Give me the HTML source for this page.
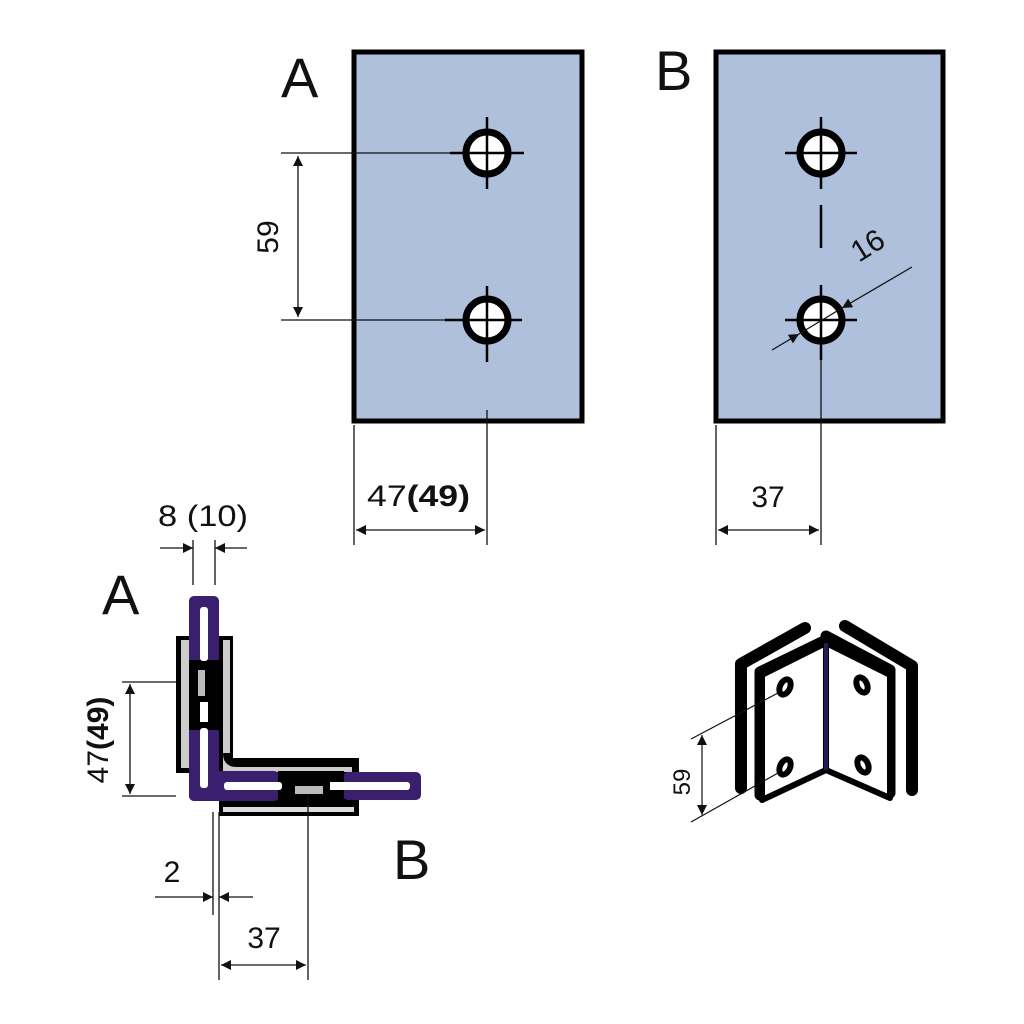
<!DOCTYPE html>
<html><head><meta charset="utf-8"><style>
html,body{margin:0;padding:0;background:#fff;}
svg{display:block;}
text{font-family:"Liberation Sans",sans-serif;fill:#111;}
</style></head><body>
<svg width="1024" height="1024" viewBox="0 0 1024 1024" xmlns="http://www.w3.org/2000/svg">
<defs>
<marker id="ar" viewBox="0 0 10 10" refX="10" refY="5" markerWidth="20" markerHeight="10" markerUnits="userSpaceOnUse" orient="auto-start-reverse">
<path d="M0,0 L10,5 L0,10 z" fill="#111"/></marker>
</defs>
<rect x="354" y="52" width="228" height="369" fill="#afc0dd" stroke="#000" stroke-width="5"/>
<rect x="716" y="52" width="227" height="369" fill="#afc0dd" stroke="#000" stroke-width="5"/>
<g stroke="#000" fill="#fff">
<circle cx="487" cy="153" r="21" stroke-width="7"/>
<circle cx="487" cy="320" r="21" stroke-width="7"/>
<circle cx="821" cy="153" r="21" stroke-width="7"/>
<circle cx="821" cy="320" r="21" stroke-width="7"/>
</g>
<g stroke="#000" stroke-width="2.5" fill="none">
<path d="M487 117V189M450 153H524M487 286V362M445 320H522"/>
<path d="M821 117V189M785 153H857M821 285V360M785 320H857M821 205V248"/>
</g>
<g stroke="#111" stroke-width="1.3" fill="none">
<path d="M281 153H450M281 320H445"/>
<line x1="298" y1="156" x2="298" y2="317" marker-start="url(#ar)" marker-end="url(#ar)"/>
<path d="M354 425V545M487 410V545"/>
<line x1="356" y1="530" x2="485" y2="530" marker-start="url(#ar)" marker-end="url(#ar)"/>
<path d="M716 425V545M821 360V545"/>
<line x1="718" y1="530" x2="819" y2="530" marker-start="url(#ar)" marker-end="url(#ar)"/>
<line x1="912" y1="267" x2="842" y2="308" marker-end="url(#ar)"/>
<line x1="772" y1="350" x2="799" y2="334" marker-end="url(#ar)"/>
<line x1="799" y1="334" x2="842" y2="308"/>
</g>
<text x="281" y="97" font-size="56">A</text>
<text x="655" y="90" font-size="56">B</text>
<text transform="translate(278,237) rotate(-90)" font-size="30" text-anchor="middle">59</text>
<text x="367" y="506" font-size="30" textLength="103" lengthAdjust="spacingAndGlyphs">47<tspan font-weight="bold">(49)</tspan></text>
<text x="768" y="507" font-size="30" text-anchor="middle">37</text>
<text transform="translate(873,254) rotate(-32)" font-size="30" text-anchor="middle">16</text>

<text x="102" y="614" font-size="56">A</text>
<text x="393" y="879" font-size="56">B</text>
<text x="158" y="526" font-size="30" textLength="90" lengthAdjust="spacingAndGlyphs">8 (10)</text>
<text transform="translate(108,740) rotate(-90)" font-size="30" text-anchor="middle">47<tspan font-weight="bold">(49)</tspan></text>
<text x="172" y="882" font-size="30" text-anchor="middle">2</text>
<text x="264" y="948" font-size="30" text-anchor="middle">37</text>
<rect x="176" y="636" width="57" height="137" fill="#000"/>
<rect x="219" y="758" width="140" height="58" fill="#000"/>
<path d="M181 640h10v128h-10zM223 640h7v113h-7z" fill="#ccc"/>
<path d="M223 753 Q223 767 237 767 H352 v5 H223z" fill="#ccc"/>
<rect x="223" y="807" width="131" height="5" fill="#ddd"/>
<g fill="#3a1f6e">
<rect x="189" y="596" width="30" height="68" rx="5"/>
<rect x="189" y="726" width="30" height="75" rx="5"/>
<rect x="189" y="771" width="90" height="30" rx="5"/>
<rect x="343" y="772" width="78" height="28" rx="5"/>
</g>
<rect x="189" y="660" width="30" height="70" fill="#000"/>
<rect x="278" y="771" width="66" height="30" fill="#000"/>
<g fill="#fff">
<rect x="200" y="607" width="8" height="54" rx="3"/>
<rect x="200" y="702" width="8" height="20" />
<rect x="200" y="728" width="8" height="60" rx="3"/>
<rect x="224" y="782" width="58" height="8" rx="3"/>
<rect x="330" y="782" width="20" height="8"/>
<rect x="348" y="782" width="62" height="8" rx="3"/>
</g>
<rect x="198" y="670" width="7" height="26" fill="#bbb"/>
<rect x="295" y="786" width="28" height="8" fill="#bbb"/>
<g stroke="#111" stroke-width="1.3" fill="none">
<path d="M193 540V585M215 540V585M122 682H176M122 796H176"/>
<line x1="160" y1="548" x2="193" y2="548" marker-end="url(#ar)"/>
<line x1="247" y1="548" x2="215" y2="548" marker-end="url(#ar)"/>
<line x1="130" y1="684" x2="130" y2="794" marker-start="url(#ar)" marker-end="url(#ar)"/>
<path d="M213 812V915M219 812V980M308 795V980"/>
<line x1="155" y1="897" x2="213" y2="897" marker-end="url(#ar)"/>
<line x1="253" y1="897" x2="219" y2="897" marker-end="url(#ar)"/>
<line x1="221" y1="965" x2="306" y2="965" marker-start="url(#ar)" marker-end="url(#ar)"/>
</g>

<g stroke="#000" stroke-linejoin="round" stroke-linecap="round" fill="none">
<path d="M741 788V664L805 628" stroke-width="12"/>
<path d="M912 790V666L845 626" stroke-width="12"/>
<path d="M760 795V672L826 640" stroke-width="11"/>
<path d="M890 793V670L826 636" stroke-width="11"/>
</g>
<path d="M762 800V675L826 643V770Z" fill="#fff" stroke="#000" stroke-width="6" stroke-linejoin="round"/>
<path d="M890 798V675L826 643V770Z" fill="#fff" stroke="#000" stroke-width="6" stroke-linejoin="round"/>
<line x1="826" y1="643" x2="826" y2="770" stroke="#2a1a55" stroke-width="4"/>
<g fill="#fff" stroke="#000" stroke-width="6">
<ellipse cx="785" cy="687" rx="5" ry="8" transform="rotate(25 785 687)"/>
<ellipse cx="785" cy="767" rx="5" ry="8" transform="rotate(25 785 767)"/>
<ellipse cx="862" cy="685" rx="5" ry="8" transform="rotate(-25 862 685)"/>
<ellipse cx="863" cy="765" rx="5" ry="8" transform="rotate(-25 863 765)"/>
</g>
<g stroke="#111" stroke-width="1.2" fill="none">
<path d="M691 739L778 693M691 822L778 773"/>
<line x1="702" y1="735" x2="702" y2="815" marker-start="url(#ar)" marker-end="url(#ar)"/>
</g>
<text transform="translate(690,782) rotate(-90)" font-size="24" text-anchor="middle">59</text>
</svg>
</body></html>
